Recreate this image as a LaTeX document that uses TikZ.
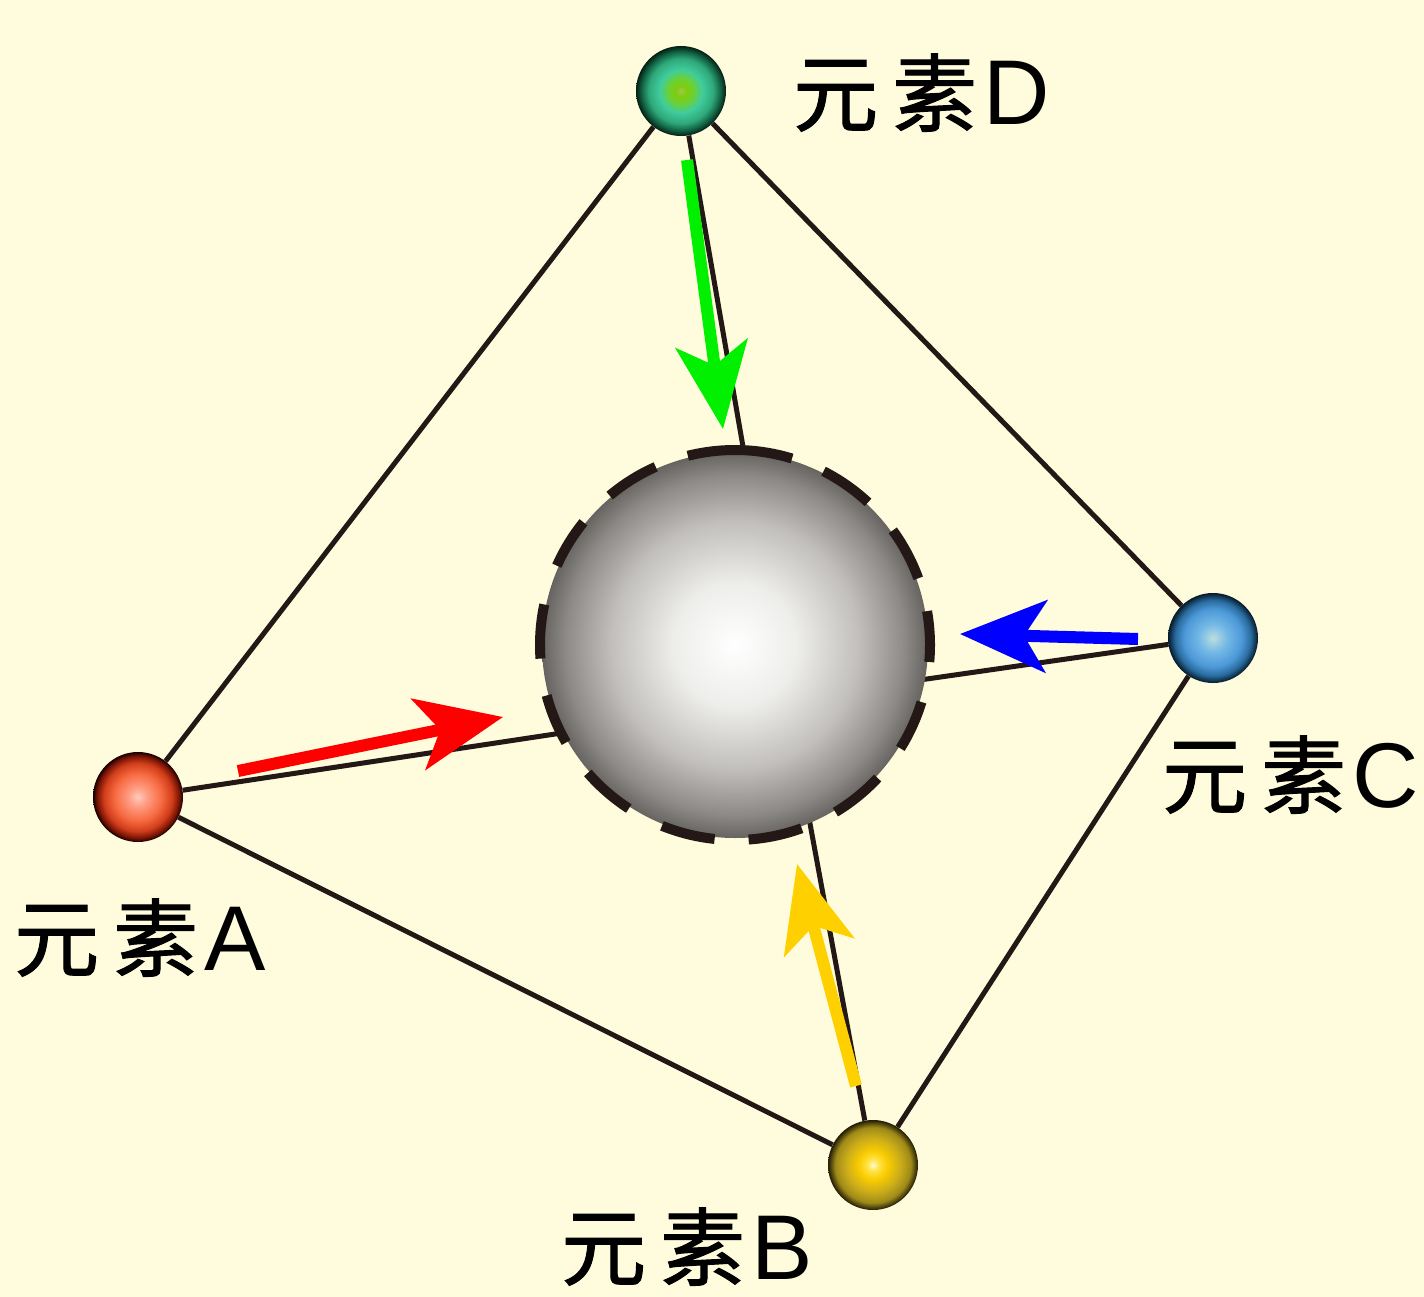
\documentclass[tikz,border=0pt]{standalone}
\usepackage{fontspec}
\setmainfont{Liberation Sans}
\newfontfamily\cjkf[FakeBold=1.2]{Noto Sans CJK SC}
\newfontfamily\latf{Liberation Sans}
\usetikzlibrary{arrows.meta}
\pgfdeclarelayer{backlayer}
\pgfdeclarelayer{linelayer}
\pgfsetlayers{backlayer,linelayer,main}
\definecolor{bg}{RGB}{255,252,221}
\definecolor{edgec}{RGB}{35,24,21}
\definecolor{arrG}{RGB}{0,240,0}
\definecolor{arrR}{RGB}{255,0,0}
\definecolor{arrB}{RGB}{0,0,255}
\definecolor{arrY}{RGB}{255,208,0}
\pgfdeclareradialshading{ballA}{\pgfpoint{0bp}{0bp}}{rgb(0bp)=(1,0.80,0.74); rgb(5bp)=(1,0.62,0.52); rgb(13bp)=(0.97,0.42,0.26); rgb(19bp)=(0.82,0.24,0.10); rgb(23bp)=(0.45,0.07,0.02); rgb(25bp)=(0.08,0,0); rgb(50bp)=(0.08,0,0)}
\pgfdeclareradialshading{ballB}{\pgfpoint{0bp}{0bp}}{rgb(0bp)=(1,0.98,0.85); rgb(3bp)=(1,0.90,0.30); rgb(8bp)=(0.98,0.80,0.0); rgb(15bp)=(0.80,0.68,0.10); rgb(21bp)=(0.62,0.54,0.10); rgb(25bp)=(0.13,0.11,0.02); rgb(50bp)=(0.13,0.11,0.02)}
\pgfdeclareradialshading{ballC}{\pgfpoint{0bp}{0bp}}{rgb(0bp)=(0.74,0.87,0.88); rgb(8bp)=(0.45,0.72,0.90); rgb(16bp)=(0.30,0.60,0.85); rgb(21bp)=(0.16,0.42,0.62); rgb(25bp)=(0.02,0.10,0.16); rgb(50bp)=(0.02,0.10,0.16)}
\pgfdeclareradialshading{ballD}{\pgfpoint{0bp}{0bp}}{rgb(0bp)=(0.62,0.78,0.35); rgb(3bp)=(0.50,0.80,0.05); rgb(7bp)=(0.42,0.82,0.20); rgb(12bp)=(0.25,0.80,0.62); rgb(18bp)=(0.18,0.66,0.48); rgb(22bp)=(0.07,0.38,0.26); rgb(25bp)=(0.02,0.12,0.08); rgb(50bp)=(0.02,0.12,0.08)}
\pgfdeclareradialshading{bigshade}{\pgfpoint{0bp}{0bp}}{rgb(0bp)=(1,1,1); rgb(8bp)=(0.93,0.93,0.92); rgb(16bp)=(0.76,0.75,0.74); rgb(22bp)=(0.55,0.54,0.53); rgb(25bp)=(0.40,0.39,0.38); rgb(50bp)=(0.40,0.39,0.38)}
\newcommand\elab[1]{{\cjkf 元}\hspace{14pt}{\cjkf 素}\hspace{6pt}{\fontsize{92}{92}\selectfont\latf #1}}
\tikzset{
  edge/.style={draw=edgec, line width=5pt},
  ball/.style={circle, minimum size=90pt, inner sep=0pt, shade},
  bigball/.style={circle, minimum size=386pt, inner sep=0pt, shade, shading=bigshade},
  ring/.style={draw=edgec, line width=10pt},
  flow/.style={line width=12pt, -{Stealth[length=86pt,width=72pt,inset=22pt]}},
  lbl/.style={anchor=base west, inner sep=0pt, text=black, font=\fontsize{85}{85}\selectfont},
}
\begin{document}
\begin{tikzpicture}[x=1pt,y=-1pt]
\useasboundingbox (0,0) rectangle (1424,1297);
\begin{pgfonlayer}{backlayer}
\fill[bg] (0,0) rectangle (1424,1297);
\end{pgfonlayer}
% vertex atoms
\node[ball, shading=ballA] (A) at (138,797) {};
\node[ball, shading=ballB] (B) at (873,1165) {};
\node[ball, shading=ballC] (C) at (1213,638) {};
\node[ball, shading=ballD] (D) at (681,91) {};
\coordinate (core) at (787,699);
\coordinate (ctr) at (735,645);
% edges
\begin{pgfonlayer}{linelayer}
\draw[edge] (D) -- (A);
\draw[edge] (D) -- (C);
\draw[edge] (A) -- (B);
\draw[edge] (B) -- (C);
\draw[edge] (D) -- (core);
\draw[edge] (A) -- (core);
\draw[edge] (B) -- (core);
\draw[edge] (C) -- (core);
\end{pgfonlayer}
% central sphere
\node[bigball] (S) at (ctr) {};
\foreach \a/\b in {73/104, 47/63, 20/36, -5/10, -32/-17, -59/-43, -86/-70, -112/-96, -139/-123, -165/-150, 168/184, 141/156, 114/130}
  \draw[ring] ([shift={(\a:195pt)}]ctr) arc[start angle=\a, end angle=\b, radius=195pt];
% arrows
\coordinate (g0) at (687,160); \coordinate (g1) at (723,429);
\coordinate (r0) at (238,771); \coordinate (r1) at (503,717);
\coordinate (b0) at (1138,639); \coordinate (b1) at (960,634);
\coordinate (y0) at (856,1086); \coordinate (y1) at (797,864);
\draw[flow, draw=arrG, fill=arrG] (g0) -- (g1);
\draw[flow, draw=arrR, fill=arrR] (r0) -- (r1);
\draw[flow, draw=arrB, fill=arrB] (b0) -- (b1);
\draw[flow, draw=arrY, fill=arrY] (y0) -- (y1);
% labels
\node[lbl] (LA) at (14,970) {\elab{A}};
\node[lbl] (LB) at (561,1279) {\elab{B}};
\node[lbl] (LC) at (1162,807) {\elab{C}};
\node[lbl] (LD) at (793,125) {\elab{D}};
\end{tikzpicture}
\end{document}
